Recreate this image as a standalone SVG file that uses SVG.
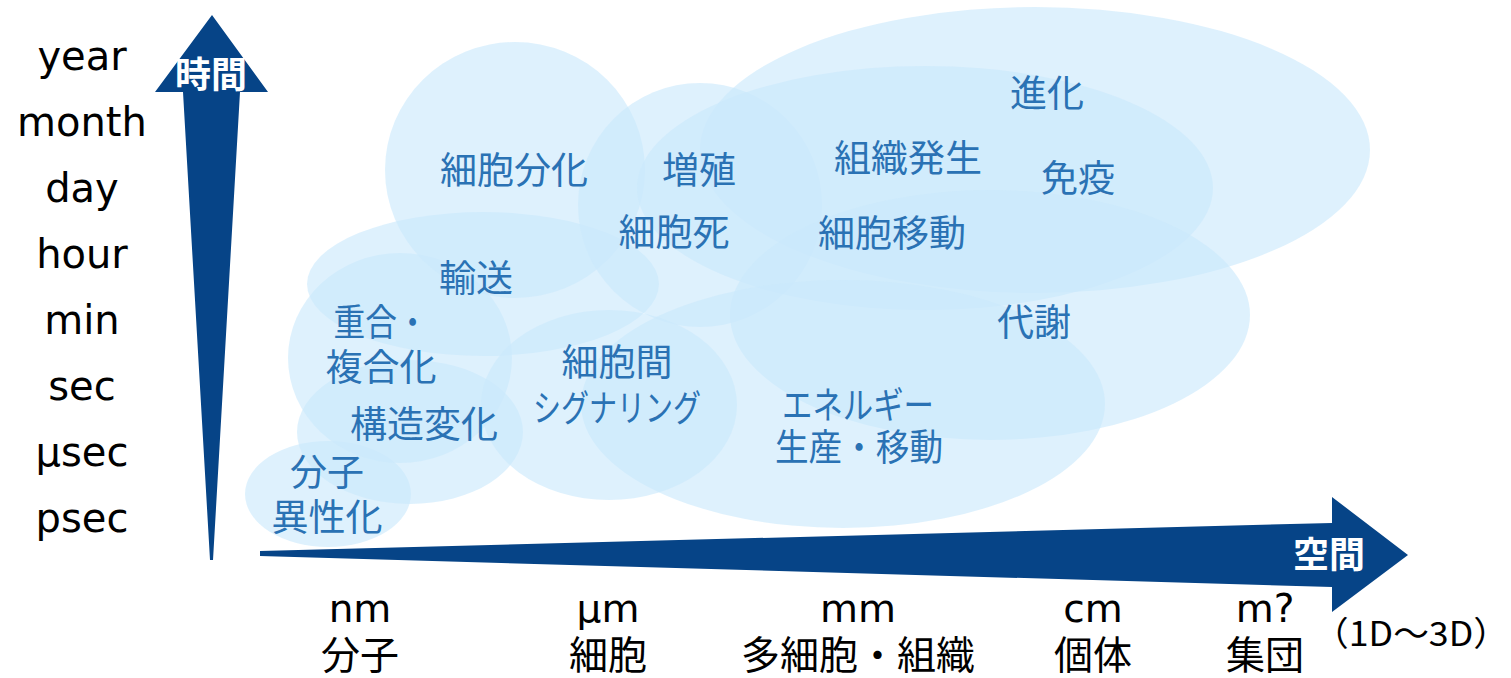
<svg xmlns="http://www.w3.org/2000/svg" width="1511" height="678" viewBox="0 0 1511 678">
<style>
.b{fill:#C9E9FB;fill-opacity:0.62}
.t{font-family:"Noto Sans CJK JP","Noto Sans",sans-serif;font-size:37px;fill:#2A72B4;text-anchor:middle}
.l{font-family:"DejaVu Sans","Noto Sans",sans-serif;font-size:40px;fill:#000;text-anchor:middle}
.j{font-family:"Noto Sans CJK JP",sans-serif;font-size:39px;fill:#000;text-anchor:middle}
.a{fill:#064487}
.w{font-family:"Noto Sans CJK JP",sans-serif;font-size:36px;font-weight:bold;fill:#fff;text-anchor:middle}
</style>
<rect width="1511" height="678" fill="#fff"/>
<g id="bubbles">
<ellipse id="n-isomer" class="b" cx="328" cy="494" rx="83" ry="53"/>
<ellipse id="n-struct" class="b" cx="410" cy="432" rx="113" ry="72"/>
<ellipse id="n-poly" class="b" cx="400" cy="358" rx="112" ry="105"/>
<ellipse id="n-trans" class="b" cx="483" cy="284" rx="176" ry="72"/>
<ellipse id="n-diff" class="b" cx="515" cy="170" rx="130" ry="128"/>
<ellipse id="n-prolif" class="b" cx="700" cy="205" rx="122" ry="122"/>
<ellipse id="n-evo" class="b" cx="1035" cy="150" rx="335" ry="143"/>
<ellipse id="n-tissue" class="b" cx="925" cy="188" rx="288" ry="122"/>
<ellipse id="n-meta" class="b" cx="990" cy="315" rx="260" ry="125"/>
<ellipse id="n-energy" class="b" cx="843" cy="404" rx="262" ry="124"/>
<ellipse id="n-signal" class="b" cx="609" cy="405" rx="128" ry="95"/>
</g>
<g id="labels">
<text class="t" x="514" y="184">細胞分化</text>
<text class="t" x="699" y="184">増殖</text>
<text class="t" x="674" y="246">細胞死</text>
<text class="t" x="908" y="172">組織発生</text>
<text class="t" x="1047" y="107">進化</text>
<text class="t" x="1078" y="192">免疫</text>
<text class="t" x="892" y="247">細胞移動</text>
<text class="t" x="476" y="292">輸送</text>
<text class="t" x="1034" y="336">代謝</text>
<text class="t" x="381" y="336" textLength="95" lengthAdjust="spacingAndGlyphs">重合・</text>
<text class="t" x="381" y="381">複合化</text>
<text class="t" x="617" y="376">細胞間</text>
<text class="t" x="617" y="422" textLength="168" lengthAdjust="spacingAndGlyphs">シグナリング</text>
<text class="t" x="858" y="419" textLength="152" lengthAdjust="spacingAndGlyphs">エネルギー</text>
<text class="t" x="859" y="461" textLength="168" lengthAdjust="spacingAndGlyphs">生産・移動</text>
<text class="t" x="424" y="438">構造変化</text>
<text class="t" x="327" y="486">分子</text>
<text class="t" x="327" y="531">異性化</text>
</g>
<g id="axes">
<polygon id="time-axis" class="a" points="212,15 268,92 240,92 213,560 210,560 183,92 155,92"/>
<polygon id="space-axis" class="a" points="1408,555 1332,497 1332,523 260,551 260,556 1332,587 1332,612"/>
<text class="w" x="211" y="88">時間</text>
<text class="w" x="1329" y="568">空間</text>
</g>
<g id="time-scale">
<text class="l" x="82" y="70">year</text>
<text class="l" x="82" y="136">month</text>
<text class="l" x="82" y="202">day</text>
<text class="l" x="82" y="268">hour</text>
<text class="l" x="82" y="334">min</text>
<text class="l" x="82" y="400">sec</text>
<text class="l" x="82" y="466">μsec</text>
<text class="l" x="82" y="532">psec</text>
</g>
<g id="space-scale">
<text class="l" x="360" y="622" style="font-size:39px">nm</text>
<text class="j" x="360" y="669">分子</text>
<text class="l" x="608" y="622" style="font-size:39px">μm</text>
<text class="j" x="608" y="669">細胞</text>
<text class="l" x="858" y="622" style="font-size:39px">mm</text>
<text class="j" x="858" y="669">多細胞・組織</text>
<text class="l" x="1093" y="622" style="font-size:39px">cm</text>
<text class="j" x="1093" y="669">個体</text>
<text class="l" x="1265" y="622" style="font-size:39px">m?</text>
<text class="j" x="1265" y="669">集団</text>
<text class="j" x="1411" y="646" style="font-size:34px" textLength="196" lengthAdjust="spacingAndGlyphs">（1D～3D）</text>
</g>
</svg>
